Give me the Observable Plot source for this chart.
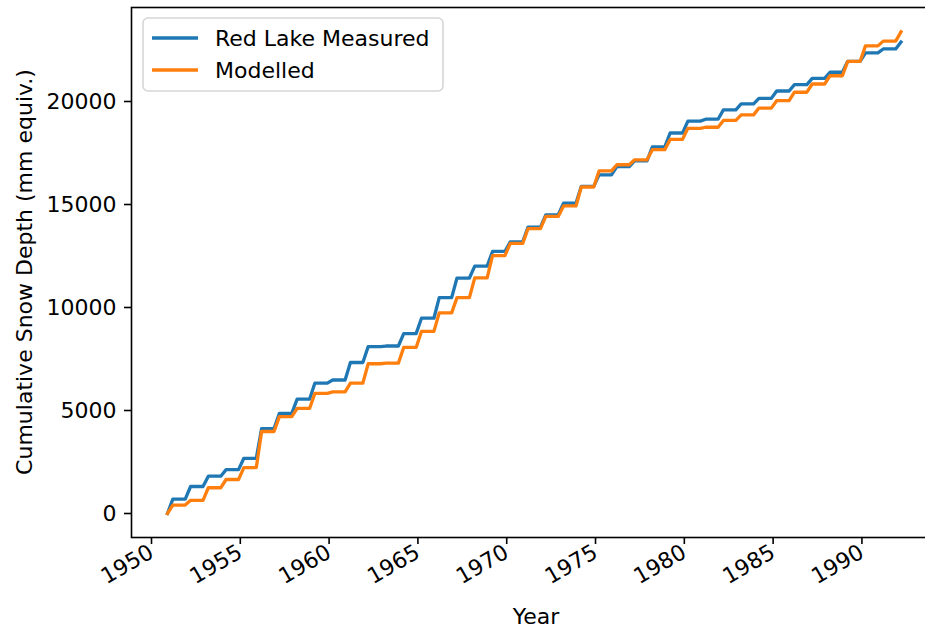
<!DOCTYPE html>
<html><head><meta charset="utf-8">
<script src="https://cdn.jsdelivr.net/npm/d3@7"></script>
<script src="https://cdn.jsdelivr.net/npm/@observablehq/plot@0.6"></script>
<style>
html,body{margin:0;padding:0;background:#fff;overflow:hidden;width:925px;height:629px}
#chart{width:945px}
#chart svg{max-width:none !important}
</style></head><body><div id="chart"></div>
<script>
// Winter seasons (year in which each accumulation season ends)
const seasons = [1951,1952,1953,1954,1955,1956,1957,1958,1959,1960,1961,1962,1963,1964,1965,1966,1967,1968,1969,1970,1971,1972,1973,1974,1975,1976,1977,1978,1979,1980,1981,1982,1983,1984,1985,1986,1987,1988,1989,1990,1991,1992];
// Cumulative snow depth (mm equiv.) at the end of each season
const measured = [700,1310,1810,2130,2680,4120,4860,5550,6330,6480,7330,8100,8130,8730,9480,10480,11430,12010,12720,13190,13900,14500,15060,15880,16440,16840,17120,17800,18470,19050,19140,19590,19880,20150,20510,20820,21120,21420,21950,22360,22550,22890];
const modelled = [410,640,1250,1650,2230,3980,4700,5100,5830,5900,6330,7270,7300,8060,8840,9740,10480,11440,12520,13110,13830,14420,14930,15850,16630,16930,17170,17660,18160,18700,18750,19080,19350,19680,20040,20450,20850,21250,21950,22700,22930,23380];
const xTicks = [1950,1955,1960,1965,1970,1975,1980,1985,1990];
const yTicks = [0,5000,10000,15000,20000];
const seriesNames = ["Red Lake Measured","Modelled"];
const seriesColors = ["#1f77b4","#ff7f0e"];
const xLabel = "Year";
const yLabel = "Cumulative Snow Depth (mm equiv.)";

function steps(values, name) {
  const pts = [];
  let prev = 0;
  seasons.forEach((yr, i) => {
    pts.push({year: yr - 0.1, depth: prev, series: name});
    pts.push({year: yr + 0.2, depth: values[i], series: name});
    prev = values[i];
  });
  return pts;
}
const data = steps(measured, seriesNames[0]).concat(steps(modelled, seriesNames[1]));

const W = 945, H = 629;
const chart = Plot.plot({
  width: W, height: H,
  marginLeft: 131, marginTop: 7, marginBottom: H - 537, marginRight: W - 941,
  style: {fontFamily: "DejaVu Sans", fontSize: "22px", background: "white", color: "black", overflow: "visible"},
  x: {domain: [1948.874, 1994.48]},
  y: {domain: [-1165, 24563]},
  color: {domain: seriesNames, range: seriesColors},
  marks: [
    Plot.line(data, {x: "year", y: "depth", z: "series", stroke: "series", strokeWidth: 3.3, strokeLinejoin: "round", strokeLinecap: "square"}),
    Plot.frame({stroke: "black", strokeWidth: 1.6}),
    Plot.axisX({ticks: xTicks, tickFormat: d => String(d), tickSize: 7, tickPadding: 6, tickRotate: -30, textAnchor: "end", label: null, strokeWidth: 1.6}),
    Plot.axisY({ticks: yTicks, tickFormat: d => String(d), tickSize: 7, tickPadding: 8, label: null, strokeWidth: 1.6})
  ]
});
chart.style.maxWidth = "none";
chart.style.width = W + "px";
chart.style.height = H + "px";
document.getElementById("chart").appendChild(chart);

const svg = d3.select(chart);
svg.append("text").attr("transform", "translate(24,272) rotate(-90)")
  .attr("text-anchor", "middle").attr("dominant-baseline", "central")
  .attr("font-size", 22).attr("fill", "black").text(yLabel);
svg.append("text").attr("x", 536).attr("y", 616)
  .attr("text-anchor", "middle").attr("dominant-baseline", "central")
  .attr("font-size", 22).attr("fill", "black").text(xLabel);

const lg = svg.append("g");
lg.append("rect").attr("x", 143).attr("y", 18).attr("width", 300).attr("height", 73)
  .attr("rx", 5).attr("fill", "white").attr("fill-opacity", 0.8)
  .attr("stroke", "#d6d6d6").attr("stroke-width", 1.6);
seriesNames.forEach((name, i) => {
  const cy = 38 + i * 32;
  lg.append("line").attr("x1", 152).attr("x2", 198).attr("y1", cy).attr("y2", cy)
    .attr("stroke", seriesColors[i]).attr("stroke-width", 3.3);
  lg.append("text").attr("x", 215).attr("y", cy).attr("text-anchor", "start").attr("dominant-baseline", "central")
    .attr("font-size", 22).attr("fill", "black").text(name);
});
</script></body></html>
